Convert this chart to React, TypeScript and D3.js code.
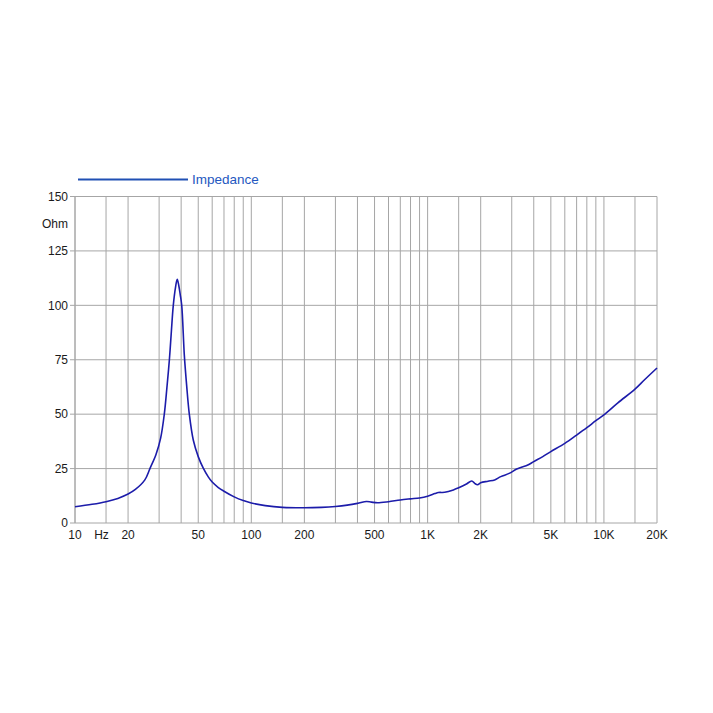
import React from "react";
import * as d3 from "d3";

const freqs = [10, 12.5, 15, 17.5, 20, 22, 24.9, 26.6, 28.8, 30.6, 32.1, 33.2, 34.3, 35.2, 36.1, 37.2, 38, 38.8, 39.5, 40.3, 41.7, 43, 44.5, 46.9, 50, 53.4, 57, 60, 65, 70, 80, 90, 100, 120, 150, 200, 250, 300, 350, 400, 450, 480, 520, 600, 700, 800, 900, 1000, 1100, 1150, 1250, 1400, 1500, 1650, 1780, 1850, 1920, 2000, 2200, 2400, 2600, 2900, 3200, 3400, 3700, 4000, 4500, 5000, 6000, 7000, 8000, 9000, 10000, 12000, 15000, 17000, 20000];
const ohms = [7.5, 8.6, 9.8, 11.3, 13.3, 15.4, 19.8, 25, 31.5, 39, 50, 62, 75, 88, 100, 108.5, 112, 109, 105, 100, 77, 63, 50, 38, 30.5, 25.2, 21.2, 18.8, 16.3, 14.6, 12, 10.3, 9.2, 8, 7.2, 7.0, 7.2, 7.6, 8.2, 9.0, 9.9, 9.6, 9.3, 9.8, 10.6, 11.1, 11.5, 12.3, 13.5, 14.0, 14.1, 15.2, 16.2, 17.8, 19.3, 18.2, 17.6, 18.5, 19.2, 19.8, 21.3, 22.8, 24.8, 25.6, 26.6, 28.2, 30.5, 32.8, 36.6, 40.4, 43.8, 47, 49.7, 55.2, 61.5, 65.8, 71.2];

const gridFreqs = [10, 15, 20, 30, 40, 50, 60, 70, 80, 90, 100, 150, 200, 300, 400, 500, 600, 700, 800, 900, 1000, 1500, 2000, 3000, 4000, 5000, 6000, 7000, 8000, 9000, 10000, 15000, 20000];
const xTickValues = [10, 20, 50, 100, 200, 500, 1000, 2000, 5000, 10000, 20000];
const xTickLabels = ["10", "20", "50", "100", "200", "500", "1K", "2K", "5K", "10K", "20K"];
const yTicks = [0, 25, 50, 75, 100, 125, 150];
const seriesName = "Impedance";
const yUnit = "Ohm";
const xUnit = "Hz";

export default function App() {
  const W = 713, H = 713;
  const left = 75, right = 657, top = 196.5, bottom = 523;
  const x = d3.scaleLog().domain([10, 20000]).range([left, right]);
  const y = d3.scaleLinear().domain([0, 150]).range([bottom, top]);
  const data = freqs.map((f, i) => [f, ohms[i]] as [number, number]);
  const line = d3.line<[number, number]>().x(d => x(d[0])).y(d => y(d[1])).curve(d3.curveCatmullRom.alpha(0.5));
  const font = "Liberation Sans, Arial, Helvetica, sans-serif";
  return (
    <svg width={W} height={H} style={{ position: "absolute", left: 0, top: 0, background: "#fff" }} fontFamily={font}>
      {gridFreqs.map(f => (
        <line key={"gx" + f} x1={x(f)} x2={x(f)} y1={top} y2={bottom} stroke="#a6a6a6" strokeWidth={1} />
      ))}
      {yTicks.map(v => (
        <line key={"gy" + v} x1={left - 5} x2={right} y1={y(v)} y2={y(v)} stroke="#a6a6a6" strokeWidth={1} />
      ))}
      <line x1={left} x2={left} y1={top} y2={bottom} stroke="#a6a6a6" strokeWidth={1} />
      {yTicks.map(v => (
        <text key={"ty" + v} x={68} y={y(v)} dy="0.35em" textAnchor="end" fontSize={12} fill="#1a1a1a">{v}</text>
      ))}
      <text x={68} y={223.5} dy="0.35em" textAnchor="end" fontSize={12} fill="#1a1a1a">{yUnit}</text>
      {xTickValues.map((f, i) => (
        <text key={"tx" + f} x={x(f)} y={535} dy="0.35em" textAnchor="middle" fontSize={12} fill="#1a1a1a">{xTickLabels[i]}</text>
      ))}
      <text x={101.5} y={535} dy="0.35em" textAnchor="middle" fontSize={12} fill="#1a1a1a">{xUnit}</text>
      <path d={line(data) || ""} fill="none" stroke="#1c1caa" strokeWidth={1.6} />
      <line x1={78} x2={188} y1={179.5} y2={179.5} stroke="#2050b4" strokeWidth={2.2} />
      <text x={192} y={179} dy="0.35em" fontSize={13.5} fill="#2458c0">{seriesName}</text>
    </svg>
  );
}
